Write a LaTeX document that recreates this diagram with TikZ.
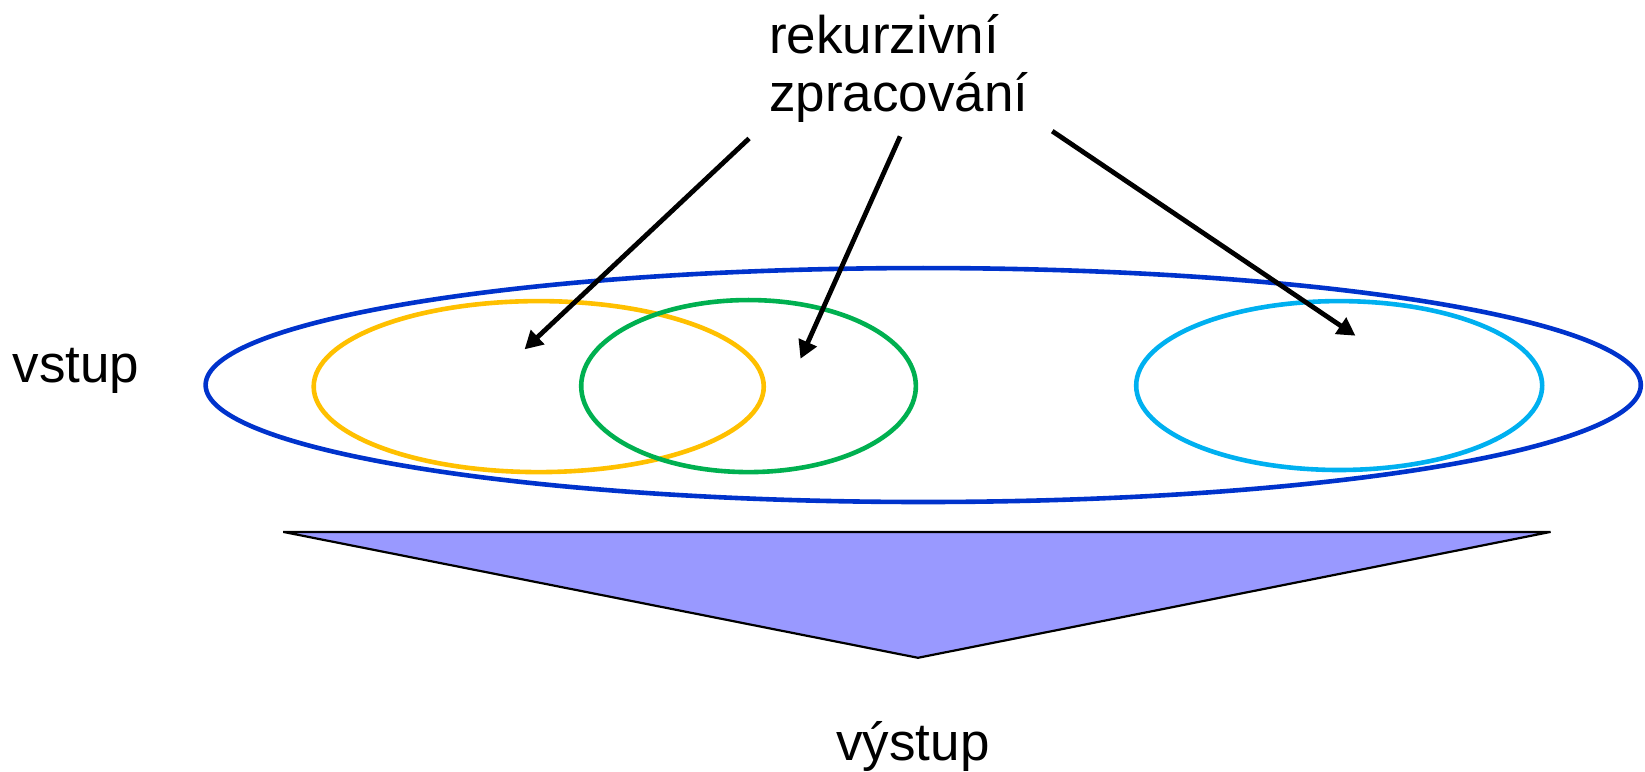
\documentclass[tikz,border=0pt]{standalone}
\usepackage{fontspec}
\setmainfont{Liberation Sans}
\usetikzlibrary{arrows.meta}
\definecolor{bigblue}{HTML}{0033CC}
\definecolor{yel}{HTML}{FFC000}
\definecolor{grn}{HTML}{00B050}
\definecolor{cyn}{HTML}{00B0F0}
\definecolor{tri}{HTML}{9999FF}
\tikzset{
  ring/.style={line width=4.6pt},
  lbl/.style={font=\fontsize{53}{58}\selectfont, inner sep=0pt, align=left},
  pointer/.style={line width=4.8pt, -{Triangle[length=18pt,width=19pt]}}
}
\begin{document}
\begin{tikzpicture}[x=1.0491pt,y=-1.0491pt]
\useasboundingbox (0,0) rectangle (1568,735);
% triangle
\draw[fill=tri, line width=2.2pt] (270,507) -- (1478,507) -- (875,627) -- cycle;
% ellipses
\draw[ring, yel] (513.5,368.5) ellipse [x radius=214.5, y radius=81.5];
\draw[ring, grn] (713.5,368) ellipse [x radius=159.5, y radius=82];
\draw[ring, cyn] (1276.5,367.5) ellipse [x radius=193.5, y radius=80.5];
\draw[ring, bigblue] (880,367) ellipse [x radius=684, y radius=111.5];
% labels
\node[lbl, anchor=west] (rek) at (733,65) {rekurzivní\\zpracování};
\node[lbl, anchor=base west] (vstup) at (12,365) {vstup};
\node[lbl, anchor=base west] (vystup) at (797,725) {výstup};
% arrows
\coordinate (s1) at (714,132);
\coordinate (e1) at (500,333);
\coordinate (s2) at (858,130);
\coordinate (e2) at (763,342);
\coordinate (s3) at (1003,125);
\coordinate (e3) at (1292,320);
\draw[pointer] (s1) -- (e1);
\draw[pointer] (s2) -- (e2);
\draw[pointer] (s3) -- (e3);
\end{tikzpicture}
\end{document}
